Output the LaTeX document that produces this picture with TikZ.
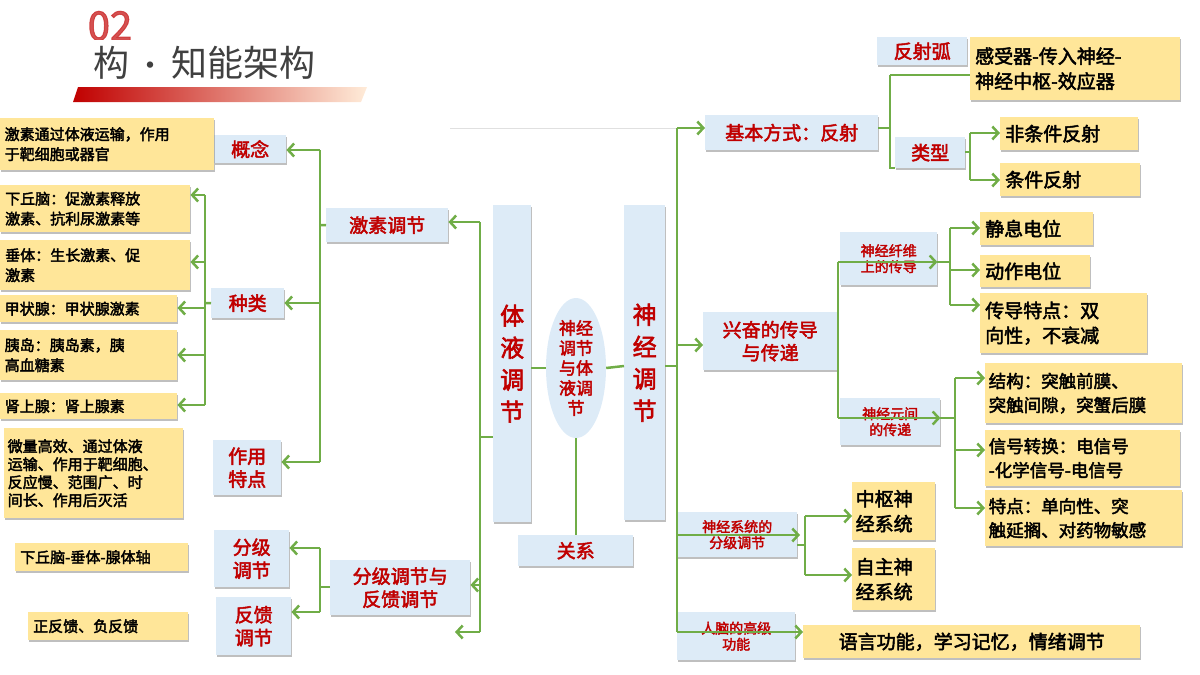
\documentclass[tikz,border=0pt]{standalone}
\usepackage{fontspec}
\setmainfont{Noto Sans CJK SC}[AutoFakeBold=2.5]
\usetikzlibrary{arrows.meta,shadows,shapes.geometric}
\definecolor{grn}{HTML}{70AD47}
\definecolor{lblue}{HTML}{DDEBF7}
\definecolor{ylw}{HTML}{FFE699}
\definecolor{dred}{HTML}{C00000}
\begin{document}
\begin{tikzpicture}[x=1pt,y=-1pt,
    bx/.style={fill=lblue,drop shadow={shadow xshift=1pt,shadow yshift=-1.5pt,opacity=0.5},anchor=north west,inner sep=1pt,text=dred,font=\bfseries\fontsize{19}{23}\selectfont,align=center},
    yb/.style={fill=ylw,drop shadow={shadow xshift=1pt,shadow yshift=-1.5pt,opacity=0.5},anchor=north west,inner sep=2pt,font=\bfseries\fontsize{15}{20}\selectfont,align=left},
    ybb/.style={yb,font=\bfseries\fontsize{19}{25}\selectfont},
    small/.style={font=\bfseries\fontsize{14}{16}\selectfont},
    ln/.style={grn,line width=2.5pt},
    arr/.style={ln,-{Straight Barb[length=6pt,width=13pt,line width=2.5pt]}}]
    \useasboundingbox (0,0) rectangle (1200,675);
    % Header
    \node[text=dred!80,font=\bfseries\fontsize{40}{40}\selectfont,opacity=0.85] (num) at (110,26) {02};
    \fill[white] (70,40) rectangle (330,86);
    \node[text=black!75,font=\fontsize{36}{36}\selectfont,anchor=west] (title) at (90,63) {构\,{\fontsize{30}{30}\selectfont\textbullet}\,知能架构};
    \shade[left color=dred,right color=orange!15] (78,87) -- (367,87) -- (361,102) -- (73,102) -- cycle;
    \draw[black!12] (450,128) -- (680,128);

    % Center
    \node[bx,minimum width=38,minimum height=317,font=\bfseries\fontsize{24}{32}\selectfont] (humor) at (493,205) {体\\液\\调\\节};
    \node[bx,minimum width=41,minimum height=315,font=\bfseries\fontsize{24}{32}\selectfont] (nerve) at (624,205) {神\\经\\调\\节};
    \node[ellipse,fill=lblue,minimum width=60,minimum height=140,inner sep=0pt,text=dred,align=center,font=\bfseries\fontsize{17}{20}\selectfont] (both) at (576,368) {神经\\调节\\与体\\液调\\节};
    \node[bx,minimum width=115,minimum height=31] (rel) at (518,535) {关系};
    \draw[ln] (humor.east |- 0,368) -- (both.west);
    \draw[ln] (both.east) -- (nerve.west |- 0,366);
    \draw[ln] (both.south) -- (rel.north -| both.south);

    % Left side
    \node[bx,minimum width=122,minimum height=34] (hormone) at (326,208) {激素调节};
    \node[bx,minimum width=140,minimum height=55] (grade) at (330,560) {分级调节与\\反馈调节};
    \node[bx,minimum width=72,minimum height=28] (concept) at (214,135) {概念};
    \node[bx,minimum width=73,minimum height=30] (kind) at (211,288) {种类};
    \node[bx,minimum width=68,minimum height=55] (feat) at (213,440) {作用\\特点};
    \node[bx,minimum width=75,minimum height=57] (grd) at (214,530) {分级\\调节};
    \node[bx,minimum width=75,minimum height=58] (fb) at (216,597) {反馈\\调节};
    \node[yb,minimum width=214,minimum height=52,text width=205] (y1) at (0,118) {激素通过体液运输，作用\\于靶细胞或器官};
    \node[yb,minimum width=190,minimum height=47,text width=180] (y2) at (0,185) {下丘脑：促激素释放\\激素、抗利尿激素等};
    \node[yb,minimum width=190,minimum height=50,text width=180] (y3) at (0,240) {垂体：生长激素、促\\激素};
    \node[yb,minimum width=177,minimum height=27,text width=168] (y4) at (0,295) {甲状腺：甲状腺激素};
    \node[yb,minimum width=177,minimum height=50,text width=168] (y5) at (0,330) {胰岛：胰岛素，胰\\高血糖素};
    \node[yb,minimum width=177,minimum height=26,text width=168] (y6) at (0,393) {肾上腺：肾上腺素};
    \node[yb,minimum width=179,minimum height=90,text width=172,font=\bfseries\fontsize{15}{18}\selectfont] (y7) at (4,428) {微量高效、通过体液\\运输、作用于靶细胞、\\反应慢、范围广、时\\间长、作用后灭活};
    \node[yb,minimum width=173,minimum height=28,text width=163] (y8) at (15,543) {下丘脑-垂体-腺体轴};
    \node[yb,minimum width=160,minimum height=28,text width=150] (y9) at (28,612) {正反馈、负反馈};
    \coordinate (loose) at (455,632);
    % left trunks
    \draw[ln] (480,437) -- (humor.west |- 0,437);
    \draw[ln] (480,222) -- (480,632);
    \draw[arr] (480,222) -- (hormone.east |- 0,222);
    \draw[arr] (480,585) -- (grade.east |- 0,585);
    \draw[arr] (480,632) -- (loose);
    \draw[ln] (hormone.west) -- (320,225);
    \draw[ln] (320,150) -- (320,462);
    \draw[arr] (320,150) -- (concept.east |- 0,150);
    \draw[arr] (320,303) -- (kind.east |- 0,303);
    \draw[arr] (320,462) -- (feat.east |- 0,462);
    \draw[ln] (kind.west) -- (205,303);
    \draw[ln] (205,195) -- (205,405);
    \draw[arr] (205,195) -- (y2.east |- 0,195);
    \draw[arr] (205,262) -- (y3.east |- 0,262);
    \draw[arr] (205,308) -- (y4.east |- 0,308);
    \draw[arr] (205,355) -- (y5.east |- 0,355);
    \draw[arr] (205,405) -- (y6.east |- 0,405);
    \draw[ln] (grade.west |- 0,587) -- (320,587);
    \draw[ln] (320,548) -- (320,612);
    \draw[arr] (320,548) -- (grd.east |- 0,548);
    \draw[arr] (320,612) -- (fb.east |- 0,612);

    % Right side
    \node[bx,minimum width=173,minimum height=35] (reflex) at (705,115) {基本方式：反射};
    \node[bx,minimum width=134,minimum height=58] (excite) at (703,312) {兴奋的传导\\与传递};
    \node[bx,small,minimum width=120,minimum height=45] (system) at (677,512) {神经系统的\\分级调节};
    \node[bx,small,minimum width=118,minimum height=48] (brain) at (677,612) {人脑的高级\\功能};
    \node[bx,minimum width=90,minimum height=28] (arc) at (877,37) {反射弧};
    \node[ybb,minimum width=210,minimum height=63,text width=200] (arcy) at (970,37) {感受器-传入神经-\\神经中枢-效应器};
    \node[bx,minimum width=70,minimum height=31] (type) at (895,137) {类型};
    \node[ybb,minimum width=138,minimum height=33,text width=128] (uncond) at (1000,117) {非条件反射};
    \node[ybb,minimum width=140,minimum height=33,text width=130] (cond) at (1000,163) {条件反射};
    \node[bx,small,minimum width=97,minimum height=53] (fiber) at (840,232) {神经纤维\\上的传导};
    \node[bx,small,minimum width=100,minimum height=47] (synap) at (840,398) {神经元间\\的传递};
    \node[ybb,minimum width=113,minimum height=33,text width=103] (rest) at (980,212) {静息电位};
    \node[ybb,minimum width=110,minimum height=32,text width=100] (act) at (980,255) {动作电位};
    \node[ybb,minimum width=167,minimum height=60,text width=157] (cond2) at (980,293) {传导特点：双\\向性，不衰减};
    \node[ybb,minimum width=197,minimum height=60,text width=190,font=\bfseries\fontsize{17.5}{24}\selectfont] (struct) at (985,363) {结构：突触前膜、\\突触间隙，突蟹后膜};
    \node[ybb,minimum width=195,minimum height=56,text width=188,font=\bfseries\fontsize{17.5}{24}\selectfont] (signal) at (985,430) {信号转换：电信号\\-化学信号-电信号};
    \node[ybb,minimum width=197,minimum height=56,text width=190,font=\bfseries\fontsize{17.5}{24}\selectfont] (spec) at (985,490) {特点：单向性、突\\触延搁、对药物敏感};
    \node[ybb,minimum width=83,minimum height=58,text width=76] (cns) at (852,482) {中枢神\\经系统};
    \node[ybb,minimum width=83,minimum height=62,text width=76] (ans) at (852,548) {自主神\\经系统};
    \node[ybb,minimum width=337,minimum height=33] (lang) at (803,625) {语言功能，学习记忆，情绪调节};
    % right trunks
    \draw[ln] (nerve.east |- 0,366) -- (677,366);
    \draw[ln] (677,128) -- (677,632);
    \draw[arr] (677,128) -- (reflex.west |- 0,128);
    \draw[arr] (677,345) -- (excite.west |- 0,345);
    \draw[arr] (677,535) -- (800,535);
    \draw[arr] (677,632) -- (lang.west |- 0,632);
    \draw[ln] (reflex.east |- 0,128) -- (890,128);
    \draw[ln] (890,75) -- (890,168) -- (type.west |- 0,168);
    \draw[ln] (890,75) -- (arcy.west |- 0,75);
    \draw[ln] (type.east |- 0,152) -- (970,152);
    \draw[ln] (970,133) -- (970,180);
    \draw[arr] (970,133) -- (uncond.west |- 0,133);
    \draw[arr] (970,180) -- (cond.west |- 0,180);
    \draw[ln] (excite.east |- 0,345) -- (838,345);
    \draw[ln] (838,262) -- (838,418);
    \draw[arr] (838,262) -- (fiber.east |- 0,262);
    \draw[arr] (838,418) -- (synap.east |- 0,418);
    \draw[ln] (fiber.east |- 0,262) -- (950,262);
    \draw[ln] (950,228) -- (950,305);
    \draw[arr] (950,228) -- (rest.west |- 0,228);
    \draw[arr] (950,270) -- (act.west |- 0,270);
    \draw[arr] (950,305) -- (cond2.west |- 0,305);
    \draw[ln] (synap.east |- 0,418) -- (955,418);
    \draw[ln] (955,378) -- (955,508);
    \draw[arr] (955,378) -- (struct.west |- 0,378);
    \draw[arr] (955,450) -- (signal.west |- 0,450);
    \draw[arr] (955,508) -- (spec.west |- 0,508);
    \draw[ln] (system.east |- 0,545) -- (805,545);
    \draw[ln] (805,516) -- (805,575);
    \draw[arr] (805,516) -- (cns.west |- 0,516);
    \draw[arr] (805,575) -- (ans.west |- 0,575);
\end{tikzpicture}
\end{document}
